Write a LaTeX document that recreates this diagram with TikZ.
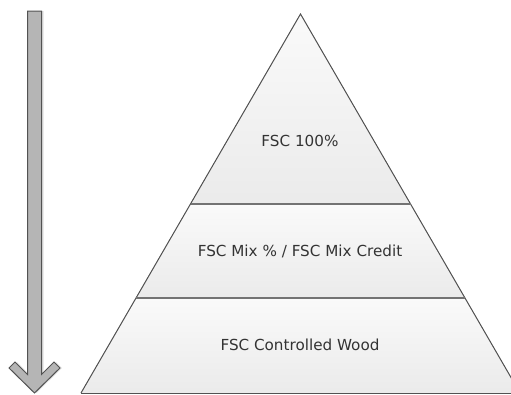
\documentclass[tikz,border=0pt]{standalone}
\usepackage{fontspec}
\setmainfont{DejaVu Sans}
\begin{document}
\begin{tikzpicture}[x=1pt,y=-1pt,
  level/.style={top color=black!2,bottom color=black!8},
  edge/.style={draw=black!68,line width=1pt},
  divider/.style={draw=black!55,line width=1.7pt},
  label/.style={font=\fontsize{15.2}{18}\selectfont,text=black!80},
  arrowbody/.style={fill=black!29,draw=black!68,line width=1pt,line join=miter}]
\useasboundingbox (0,0) rectangle (511,394);
\clip (0,0) rectangle (511,394);
% вершины пирамиды
\coordinate (apex) at (300.5,14);
\coordinate (ml) at (190.5,204);
\coordinate (mr) at (410.5,204);
\coordinate (ll) at (136,298);
\coordinate (lr) at (465,298);
\coordinate (bl) at (81,393);
\coordinate (br) at (520,393);
% уровни
\fill[level] (apex) -- (mr) -- (ml) -- cycle;
\fill[level] (ml) -- (mr) -- (lr) -- (ll) -- cycle;
\fill[level] (ll) -- (lr) -- (br) -- (bl) -- cycle;
% контур
\draw[edge] (bl) -- (apex) -- (br);
\draw[edge] (bl) -- (br);
\draw[divider] (ml) -- (mr);
\draw[divider] (ll) -- (lr);
% подписи
\node[label] (top) at (300,141) {FSC 100\%};
\node[label] (mid) at (300,251) {FSC Mix \% / FSC Mix Credit};
\node[label] (low) at (300,345) {FSC Controlled Wood};
% стрелка
\def\arrowpath{(27.5,11) -- (27.5,374.5) -- (15,362) -- (9,368)
  -- (34.5,393) -- (60,368) -- (54,362) -- (41.5,374.5) -- (41.5,11) -- cycle}
\fill[black!12] [xshift=2pt] \arrowpath;
\filldraw[arrowbody] \arrowpath;
\end{tikzpicture}
\end{document}
